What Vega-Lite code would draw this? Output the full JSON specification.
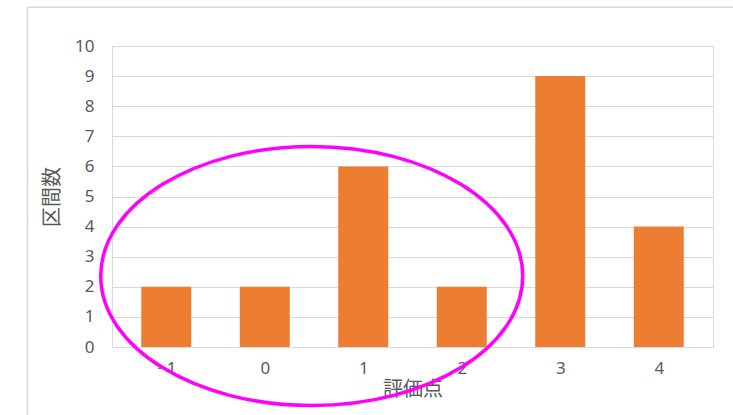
{
  "$schema": "https://vega.github.io/schema/vega-lite/v6.json",
  "width": 601,
  "height": 301,
  "autosize": "none",
  "padding": {"left": 112, "top": 46, "right": 20, "bottom": 68},
  "background": "white",
  "config": {
    "view": {"stroke": "#d9d9d9", "strokeWidth": 1},
    "font": "Noto Sans CJK JP",
    "axisX": {
      "labelOverlap": false,
      "grid": false,
      "ticks": false,
      "domainColor": "#d9d9d9",
      "labelFont": "Noto Sans",
      "labelFontSize": 17,
      "labelColor": "#595959",
      "labelPadding": 13,
      "titleFontSize": 20,
      "titleColor": "#595959",
      "titleFontWeight": "normal",
      "titlePadding": 3
    },
    "axisY": {
      "labelOverlap": false,
      "gridColor": "#d9d9d9",
      "domain": false,
      "ticks": false,
      "labelFont": "Noto Sans",
      "labelFontSize": 17,
      "labelColor": "#595959",
      "labelPadding": 18,
      "titleFontSize": 20,
      "titleColor": "#595959",
      "titleFontWeight": "normal",
      "titlePadding": 12
    }
  },
  "data": {
    "values": [
      {"score": -1, "count": 2},
      {"score": 0, "count": 2},
      {"score": 1, "count": 6},
      {"score": 2, "count": 2},
      {"score": 3, "count": 9},
      {"score": 4, "count": 4}
    ]
  },
  "layer": [
    {
      "mark": {"type": "bar", "color": "#ED7D31", "width": 50},
      "encoding": {
        "x": {
          "field": "score",
          "type": "quantitative",
          "scale": {"domain": [-1.5, 4.5], "nice": false, "zero": false},
          "axis": {"values": [-1, 0, 1, 2, 3, 4], "format": "d", "title": "評価点"}
        },
        "y": {
          "field": "count",
          "type": "quantitative",
          "scale": {"domain": [0, 10], "nice": false},
          "axis": {"values": [0, 1, 2, 3, 4, 5, 6, 7, 8, 9, 10], "format": "d", "title": "区間数"}
        }
      }
    },
    {
      "data": {"values": [{}]},
      "mark": {
        "type": "point",
        "shape": "M 1 0 C 1 0.339 0.5523 0.614 0 0.614 C -0.5523 0.614 -1 0.339 -1 0 C -1 -0.339 -0.5523 -0.614 0 -0.614 C 0.5523 -0.614 1 -0.339 1 0 Z",
        "size": 178084,
        "filled": false,
        "stroke": "#FF00FF",
        "strokeWidth": 3.5,
        "opacity": 1
      },
      "encoding": {
        "x": {"datum": 0.477, "type": "quantitative", "axis": {"values": [-1, 0, 1, 2, 3, 4], "format": "d", "title": "評価点"}},
        "y": {"datum": 2.36, "type": "quantitative", "axis": {"values": [0, 1, 2, 3, 4, 5, 6, 7, 8, 9, 10], "format": "d", "title": "区間数"}}
      }
    },
    {
      "data": {"values": [{}]},
      "mark": {"type": "rule", "color": "#d9d9d9", "strokeWidth": 1.5},
      "encoding": {
        "x": {"datum": -2.408, "type": "quantitative", "axis": {"values": [-1, 0, 1, 2, 3, 4], "format": "d", "title": "評価点"}},
        "y": {"datum": 11.29, "type": "quantitative", "axis": {"values": [0, 1, 2, 3, 4, 5, 6, 7, 8, 9, 10], "format": "d", "title": "区間数"}},
        "y2": {"datum": -2.6}
      }
    },
    {
      "data": {"values": [{}]},
      "mark": {"type": "rule", "color": "#d9d9d9", "strokeWidth": 1.5},
      "encoding": {
        "y": {"datum": 11.29, "type": "quantitative", "axis": {"values": [0, 1, 2, 3, 4, 5, 6, 7, 8, 9, 10], "format": "d", "title": "区間数"}},
        "x": {"datum": -2.408, "type": "quantitative", "axis": {"values": [-1, 0, 1, 2, 3, 4], "format": "d", "title": "評価点"}},
        "x2": {"datum": 4.9}
      }
    }
  ]
}
